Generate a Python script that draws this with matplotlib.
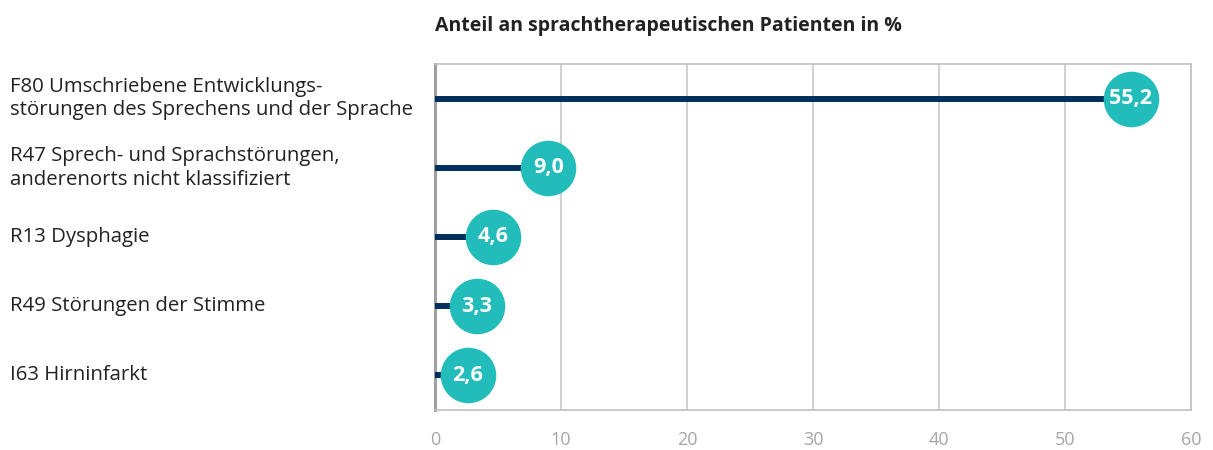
import matplotlib.pyplot as plt
import matplotlib.transforms as mtransforms

categories = [
    "F80 Umschriebene Entwicklungs-\nstörungen des Sprechens und der Sprache",
    "R47 Sprech- und Sprachstörungen,\nanderenorts nicht klassifiziert",
    "R13 Dysphagie",
    "R49 Störungen der Stimme",
    "I63 Hirninfarkt",
]
values = [55.2, 9.0, 4.6, 3.3, 2.6]
xticks = [0, 10, 20, 30, 40, 50, 60]

plt.rcParams["font.family"] = ["Open Sans", "DejaVu Sans"]

NAVY = "#002f5c"
TEAL = "#22bdbb"

fig = plt.figure(figsize=(12.13, 4.5), dpi=100)
ax = fig.add_axes([0.3586, 0.0889, 0.6233, 0.7689])

ypos = list(range(len(categories)))
ax.hlines(ypos, 0, values, color=NAVY, linewidth=4.3, zorder=3)
ax.plot(values, ypos, "o", markersize=40, color=TEAL, markeredgewidth=0, zorder=4, clip_on=False)
for y, v in zip(ypos, values):
    ax.text(v, y, f"{v:.1f}".replace(".", ","), ha="center", va="center",
            color="white", fontsize=15.5, fontweight="bold", zorder=5)

ax.set_xlim(0, 60)
ax.set_ylim(4.5, -0.5)
ax.set_xticks(xticks)
ax.set_xticklabels([str(t) for t in xticks])
ax.set_yticks([])
ax.tick_params(axis="x", length=0, pad=15, labelsize=13, labelcolor="#a6a6a6")
ax.grid(axis="x", color="#c8c8c8", linewidth=1.2, zorder=0)
ax.set_axisbelow(True)
for side in ["top", "right", "bottom"]:
    ax.spines[side].set_color("#c0c0c0")
    ax.spines[side].set_linewidth(1.2)
ax.spines["left"].set_color("#a0a0a0")
ax.spines["left"].set_linewidth(2.2)

trans = mtransforms.blended_transform_factory(fig.transFigure, ax.transData)
for y, label in zip(ypos, categories):
    fig.text(10 / 1213, y, label, transform=trans, ha="left", va="center",
             fontsize=14.7, color="#222222", linespacing=1.25)

ax.set_title("Anteil an sprachtherapeutischen Patienten in %", loc="left",
             fontsize=14, fontweight="bold", color="#222222", pad=24)

fig.savefig("out.png", dpi=100)
